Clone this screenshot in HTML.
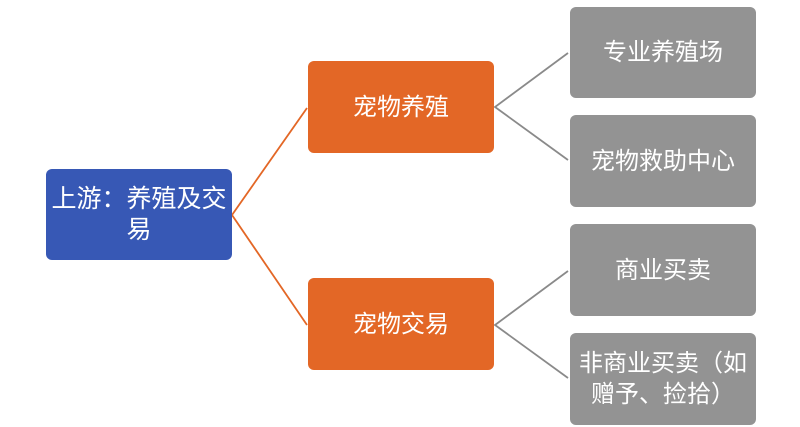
<!DOCTYPE html>
<html><head><meta charset="utf-8"><style>
body{margin:0;width:800px;height:427px;background:#fff;position:relative;overflow:hidden;font-family:"Liberation Sans","Noto Sans CJK SC",sans-serif;}
.b{position:absolute;display:flex;align-items:center;justify-content:center;text-align:center;color:#fff;font-size:24px;line-height:31px;border-radius:6px;box-sizing:border-box;}
.blue{background:#3758b5;font-size:25px;}
.or{background:#e36726;}
.gr{background:#939393;}
svg{position:absolute;left:0;top:0;}
</style></head><body>
<svg width="800" height="427">
<g stroke="#e36726" stroke-width="1.8" fill="none"><polyline points="307,108 232,215 307,325"/></g>
<g stroke="#8a8a8a" stroke-width="1.8" fill="none"><polyline points="568,53 495,107 568,160"/><polyline points="568,271 495,325 568,378"/></g>
</svg>
<div class="b blue" style="left:46px;top:169px;width:186px;height:91px;padding:0 1px">上游：养殖及交易</div>
<div class="b or" style="left:308px;top:61px;width:186px;height:92px">宠物养殖</div>
<div class="b or" style="left:308px;top:278px;width:186px;height:92px">宠物交易</div>
<div class="b gr" style="left:570px;top:7px;width:186px;height:91px">专业养殖场</div>
<div class="b gr" style="left:570px;top:115px;width:186px;height:92px">宠物救助中心</div>
<div class="b gr" style="left:570px;top:224px;width:186px;height:92px">商业买卖</div>
<div class="b gr" style="left:570px;top:333px;width:186px;height:92px;padding:0 1px">非商业买卖（如赠予、捡拾）</div>
</body></html>
